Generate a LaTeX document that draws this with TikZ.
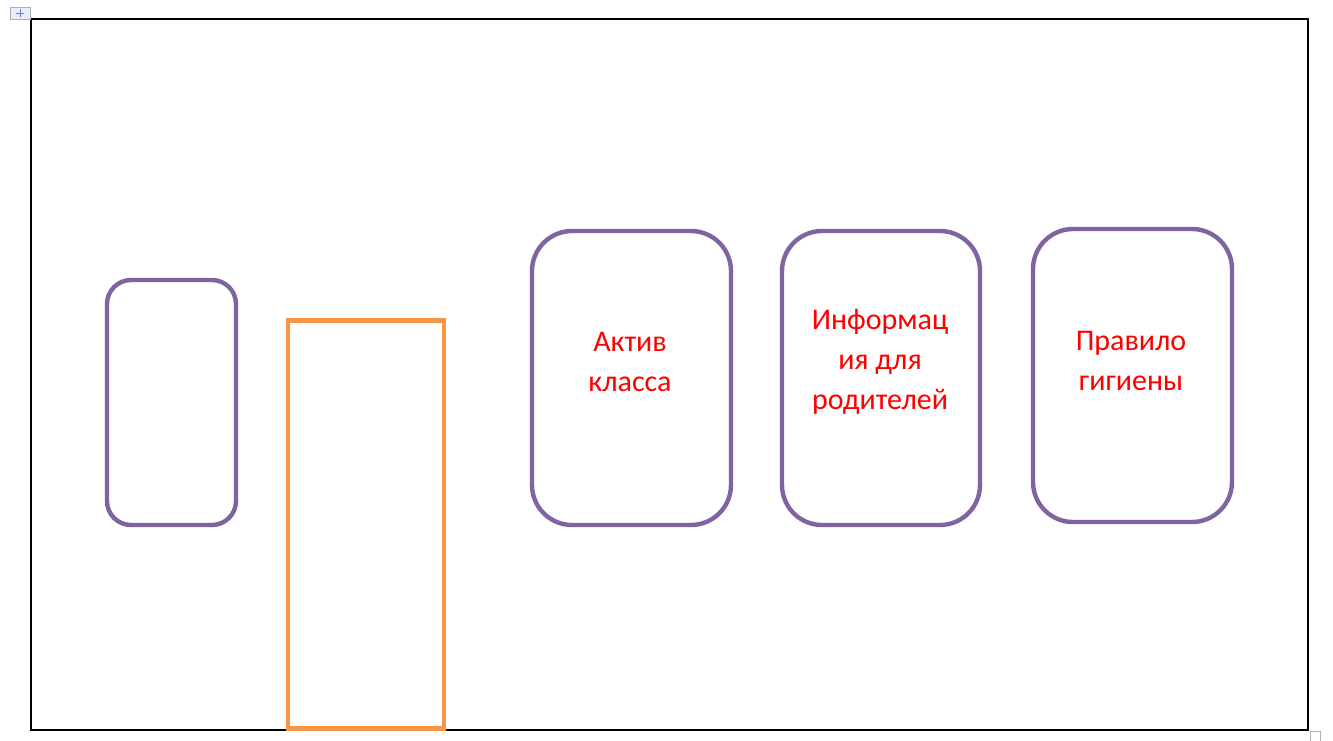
\documentclass[tikz,border=0pt]{standalone}
\usepackage{fontspec}
\setmainfont{Carlito}
\definecolor{boxpurple}{HTML}{8064A2}
\definecolor{boxorange}{HTML}{F79646}
\definecolor{txtred}{HTML}{FF0000}
\definecolor{markgray}{HTML}{B0B0B0}
\definecolor{markblue}{HTML}{5A86CC}
\begin{document}
\begin{tikzpicture}[x=0.5pt,y=-0.5pt,
  pbox/.style={draw=boxpurple,line width=2.2pt,rounded corners=20pt,inner sep=0pt},
  pboxsmall/.style={pbox,rounded corners=12pt},
  obox/.style={draw=boxorange,line width=2.2pt,inner sep=0pt},
  lbl/.style={text=txtred,align=center,font=\fontsize{15}{20}\selectfont,inner sep=0pt}]
\useasboundingbox (0,0) rectangle (1333,740);
\fill[white] (0,0) rectangle (1333,740);
% frame
\node[draw=black,line width=0.8pt,minimum width=638.5pt,minimum height=355.5pt,inner sep=0pt] (frame) at (669.5,374.5) {};
% word markers
\node[draw=markgray,line width=0.4pt,fill=white!92!blue,minimum width=10pt,minimum height=6pt,inner sep=0pt] (move) at (20,13) {};
\draw[markblue,line width=0.5pt] ([xshift=-2pt]move.center) -- ([xshift=2pt]move.center);
\draw[markblue,line width=0.5pt] ([yshift=-2pt]move.center) -- ([yshift=2pt]move.center);
\node[draw=markgray,line width=0.4pt,minimum width=5pt,minimum height=5pt,inner sep=0pt] (resize) at (1315,736) {};
% boxes
\node[pboxsmall,minimum width=64.5pt,minimum height=122.5pt] (left) at (171.5,402.5) {};
\node[obox,minimum width=78pt,minimum height=204pt] (door) at (366,524.5) {};
\node[pbox,minimum width=99.5pt,minimum height=147pt] (b1) at (631.5,378) {};
\node[pbox,minimum width=99pt,minimum height=147pt] (b2) at (881,378) {};
\node[pbox,minimum width=99.5pt,minimum height=146.5pt] (b3) at (1132.5,375.5) {};
% labels
\node[lbl] (t1) at (630,362) {Актив\\класса};
\node[lbl] (t2) at (880,362) {Информац\\ия для\\родителей};
\node[lbl] (t3) at (1131,361) {Правило\\гигиены};
\end{tikzpicture}
\end{document}
